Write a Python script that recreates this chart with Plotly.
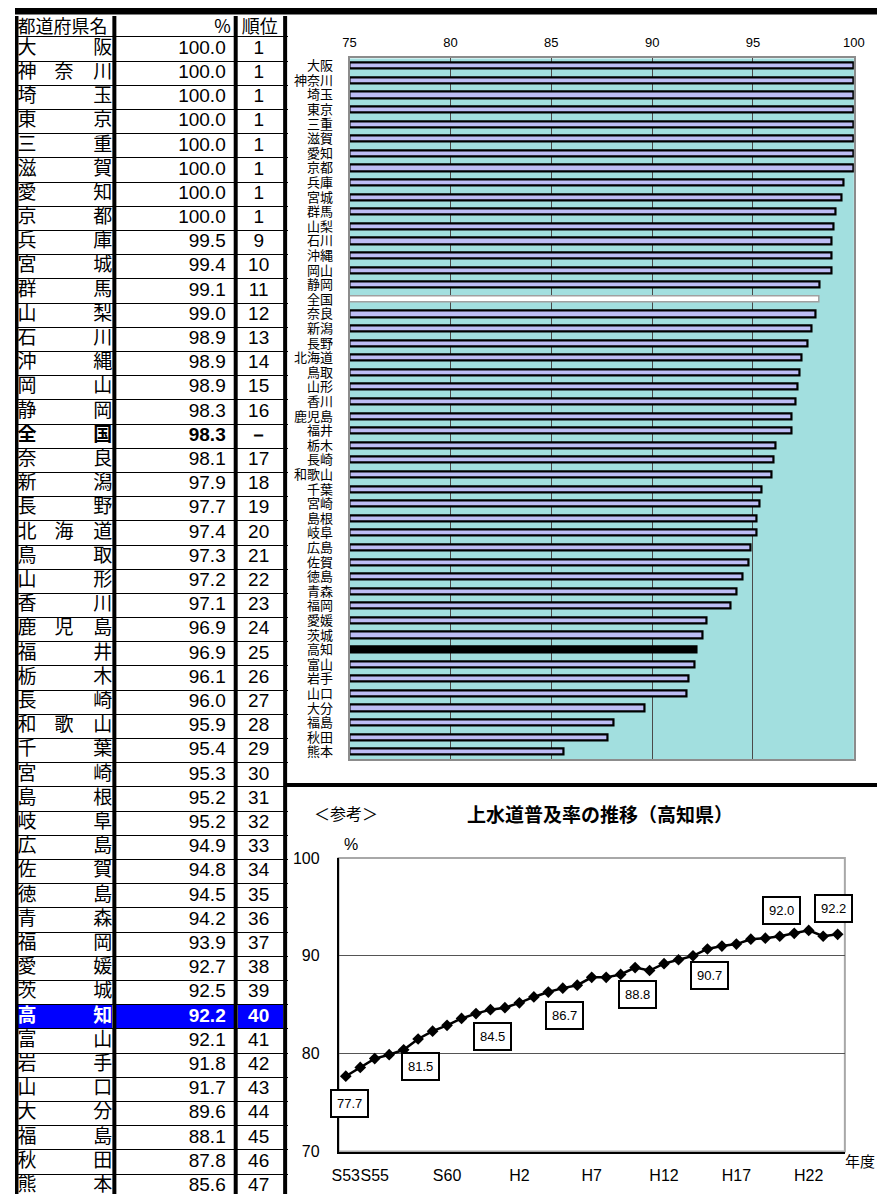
import plotly.graph_objects as go

# ---------------- data ----------------
prefectures = ["大阪", "神奈川", "埼玉", "東京", "三重", "滋賀", "愛知", "京都", "兵庫", "宮城",
               "群馬", "山梨", "石川", "沖縄", "岡山", "静岡", "全国", "奈良", "新潟", "長野",
               "北海道", "鳥取", "山形", "香川", "鹿児島", "福井", "栃木", "長崎", "和歌山", "千葉",
               "宮崎", "島根", "岐阜", "広島", "佐賀", "徳島", "青森", "福岡", "愛媛", "茨城",
               "高知", "富山", "岩手", "山口", "大分", "福島", "秋田", "熊本"]
rates = [100.0, 100.0, 100.0, 100.0, 100.0, 100.0, 100.0, 100.0, 99.5, 99.4,
         99.1, 99.0, 98.9, 98.9, 98.9, 98.3, 98.3, 98.1, 97.9, 97.7,
         97.4, 97.3, 97.2, 97.1, 96.9, 96.9, 96.1, 96.0, 95.9, 95.4,
         95.3, 95.2, 95.2, 94.9, 94.8, 94.5, 94.2, 93.9, 92.7, 92.5,
         92.2, 92.1, 91.8, 91.7, 89.6, 88.1, 87.8, 85.6]
ranks = ["1", "1", "1", "1", "1", "1", "1", "1", "9", "10",
         "11", "12", "13", "14", "15", "16", "－", "17", "18", "19",
         "20", "21", "22", "23", "24", "25", "26", "27", "28", "29",
         "30", "31", "32", "33", "34", "35", "36", "37", "38", "39",
         "40", "41", "42", "43", "44", "45", "46", "47"]
national = "全国"
highlight = "高知"
table_headers = ["都道府県名", "%", "順位"]
bar_ticks = [75, 80, 85, 90, 95, 100]

years = ["S53", "S54", "S55", "S56", "S57", "S58", "S59", "S60", "S61", "S62", "S63",
         "H1", "H2", "H3", "H4", "H5", "H6", "H7", "H8", "H9", "H10",
         "H11", "H12", "H13", "H14", "H15", "H16", "H17", "H18", "H19", "H20",
         "H21", "H22", "H23", "H24"]
kochi_trend = [77.7, 78.6, 79.5, 79.9, 80.4, 81.5, 82.3, 82.9, 83.6, 84.1, 84.5,
               84.7, 85.2, 85.8, 86.3, 86.7, 87.0, 87.8, 87.8, 88.1, 88.8,
               88.5, 89.2, 89.6, 90.0, 90.7, 91.0, 91.2, 91.7, 91.8, 92.0,
               92.3, 92.6, 92.0, 92.2]
trend_tick_years = ["S53", "S55", "S60", "H2", "H7", "H12", "H17", "H22"]
labelled_years = ["S53", "S58", "S63", "H5", "H10", "H15", "H20", "H24"]
labels_above = ["H20", "H24"]

# ---------------- layout helpers ----------------
# Figure size and a calibration from target-picture pixels to figure pixels.
W, H = 885, 1195
SX, BX = 0.981, 14.0
SY, BY = 0.987, 15.0


def fx(p):
    return (p - BX) / SX / W


def fy(p):
    return 1 - (p - BY) / SY / H


JP = "Noto Sans CJK JP"
NUM = "Liberation Sans, Arial, sans-serif"

fig = go.Figure()

# ================= TABLE (x3 / y3) =================
ROW_TOP = 30.0
ROW_H = 24.35
ref_top = BY - 6                  # a little above the figure top (kept in range)
ref_bottom = SY * H + BY
ref_left = BX
y_min = -0.5 - (ROW_TOP - ref_top) / ROW_H
y_max = -0.5 + (ref_bottom - ROW_TOP) / ROW_H
header_y = -0.5 - 8.5 / ROW_H
NAME_L, NAME_M, NAME_R = 16.5, 63.0, 111.5
VAL_R, RANK_C = 225, 258
col_lines = [113.5, 235, 284.5]

n = len(prefectures)
rows = list(range(n))
hi_row = prefectures.index(highlight)


def styled(t, p):
    return f"<b>{t}</b>" if p in (national, highlight) else t


colors = ["white" if p == highlight else "black" for p in prefectures]

fig.add_trace(go.Bar(orientation="h", y=[hi_row] * 3, x=[111.5 - 16, 117.5, 45.5], base=[16, 115.5, 237],
                     width=0.95, marker=dict(color="#0000FF", line=dict(width=0)),
                     xaxis="x3", yaxis="y3", hoverinfo="skip", showlegend=False))


def text_trace(xs, ys, texts, pos, family, cols, size=19):
    return go.Scatter(x=xs, y=ys, mode="text", text=texts, textposition=pos,
                      textfont=dict(family=family, size=size, color=cols), cliponaxis=False,
                      xaxis="x3", yaxis="y3", hoverinfo="skip", showlegend=False)


fig.add_trace(text_trace([NAME_L] * n, rows, [styled(p[0], p) for p in prefectures],
                         "middle right", JP, colors))
mid_rows = [i for i, p in enumerate(prefectures) if len(p) == 3]
fig.add_trace(text_trace([NAME_M] * len(mid_rows), mid_rows,
                         [styled(prefectures[i][1], prefectures[i]) for i in mid_rows],
                         "middle center", JP, [colors[i] for i in mid_rows]))
fig.add_trace(text_trace([NAME_R] * n, rows, [styled(p[-1], p) for p in prefectures],
                         "middle left", JP, colors))
fig.add_trace(text_trace([VAL_R] * n, rows, [styled(f"{v:.1f}", p) for v, p in zip(rates, prefectures)],
                         "middle left", NUM, colors))
fig.add_trace(text_trace([RANK_C] * n, rows, [styled(r, p) for r, p in zip(ranks, prefectures)],
                         "middle center", NUM, colors))
fig.add_trace(text_trace([NAME_L, 230, 259], [header_y] * 3, table_headers,
                         ["middle right", "middle left", "middle center"], JP, "black", size=18))

# ================= BAR CHART (x / y) =================
fill = ["#000000" if p == highlight else "#FFFFFF" if p == national else "#BDBDF5" for p in prefectures]
edge = ["#000000" if p != national else "#A0A0A0" for p in prefectures]
edge_w = [2.2 if p != national else 1.5 for p in prefectures]
fig.add_trace(go.Bar(orientation="h", y=prefectures, x=[v - bar_ticks[0] for v in rates],
                     base=bar_ticks[0], width=0.42,
                     marker=dict(color=fill, line=dict(color=edge, width=edge_w)),
                     xaxis="x", yaxis="y", showlegend=False,
                     hovertemplate="%{y}: %{customdata}<extra></extra>", customdata=rates))

# ================= LINE CHART (x2 / y2) =================
fig.add_trace(go.Scatter(x=years, y=kochi_trend, mode="lines+markers",
                         line=dict(color="black", width=2.5),
                         marker=dict(symbol="diamond", size=9, color="black"),
                         xaxis="x2", yaxis="y2", showlegend=False))

annotations = []
for yr in labelled_years:
    i = years.index(yr)
    above = yr in labels_above
    annotations.append(dict(
        x=yr, y=kochi_trend[i], xref="x2", yref="y2", showarrow=False,
        text=f"{kochi_trend[i]:.1f}", font=dict(family=NUM, size=13, color="black"),
        bgcolor="white", bordercolor="black", borderwidth=2, borderpad=5,
        yshift=26 if above else -27, xshift=(-4 if yr == labelled_years[-1] else (4 if i == 0 else 2))))

annotations += [
    dict(x=fx(338), y=fy(6), xref="paper", yref="paper", xanchor="center", yanchor="bottom",
         text="<b>水道普及率の都道府県比較（平成24年度末現在）</b>", showarrow=False,
         font=dict(family=JP, size=24, color="black")),
    dict(x=fx(345), y=fy(813), xref="paper", yref="paper", xanchor="center", yanchor="middle",
         text="＜参考＞", showarrow=False, font=dict(family=JP, size=16, color="black")),
    dict(x=fx(600), y=fy(813), xref="paper", yref="paper", xanchor="center", yanchor="middle",
         text="<b>上水道普及率の推移（高知県）</b>", showarrow=False,
         font=dict(family=JP, size=19, color="black")),
    dict(x=fx(350), y=fy(845), xref="paper", yref="paper", xanchor="center", yanchor="middle",
         text="%", showarrow=False, font=dict(family=NUM, size=16, color="black")),
    dict(x=fx(860), y=fy(1161), xref="paper", yref="paper", xanchor="center", yanchor="middle",
         text="年度", showarrow=False, font=dict(family=JP, size=15, color="black")),
]

shapes = [
    dict(type="rect", xref="x domain", yref="y domain", x0=0, x1=1, y0=0, y1=1,
         fillcolor="#A2DFDF", line=dict(width=0), layer="below"),
    dict(type="rect", xref="x2 domain", yref="y2 domain", x0=0, x1=1, y0=0, y1=1,
         fillcolor="rgba(0,0,0,0)", line=dict(color="#A8A8A8", width=2), layer="below"),
    # heavy top rule and the rule above the reference chart
    dict(type="rect", xref="paper", yref="paper", x0=0, x1=1, y0=fy(13.5), y1=1.02,
         fillcolor="black", line=dict(width=0)),
    dict(type="rect", xref="paper", yref="paper", x0=fx(284), x1=1, y0=fy(787), y1=fy(783),
         fillcolor="black", line=dict(width=0)),
    # table left border at the figure edge
    dict(type="rect", xref="paper", yref="paper", x0=0, x1=fx(17.5), y0=0, y1=1,
         fillcolor="black", line=dict(width=0)),
]
for cx in col_lines:
    shapes.append(dict(type="rect", xref="paper", yref="paper", x0=fx(cx - 2), x1=fx(cx + 2),
                       y0=0, y1=1, fillcolor="black", line=dict(width=0)))

fig.update_layout(
    width=W, height=H, margin=dict(l=0, r=0, t=0, b=0),
    paper_bgcolor="white", plot_bgcolor="rgba(0,0,0,0)",
    barmode="overlay", bargap=0, showlegend=False,
    annotations=annotations, shapes=shapes,
    xaxis=dict(domain=[fx(349), fx(854)], range=[bar_ticks[0], bar_ticks[-1]], side="top",
               tickvals=bar_ticks, tickfont=dict(family=NUM, size=13, color="black"),
               showgrid=True, gridcolor="#4A4A4A", gridwidth=1,
               showline=True, mirror=True, linecolor="#8C8C8C", linewidth=2,
               ticks="", ticklabelstandoff=4, zeroline=False, fixedrange=True, anchor="y"),
    yaxis=dict(domain=[fy(759), fy(57.5)], type="category", categoryorder="array",
               categoryarray=prefectures, autorange="reversed",
               tickmode="array", tickvals=prefectures, ticktext=prefectures,
               tickfont=dict(family=JP, size=13, color="black"), ticks="",
               ticklabelstandoff=12, showgrid=False,
               showline=True, mirror=True, linecolor="#8C8C8C", linewidth=2, anchor="x"),
    xaxis2=dict(domain=[fx(338), fx(845)], type="category", categoryorder="array",
                categoryarray=years, range=[-0.5, len(years) - 0.5],
                tickmode="array", tickvals=trend_tick_years, ticktext=trend_tick_years,
                tickangle=0,
                tickfont=dict(family=NUM, size=16, color="black"), ticks="",
                ticklabelstandoff=8, showgrid=False, showline=True, linecolor="black",
                linewidth=1.5, anchor="y2"),
    yaxis2=dict(domain=[fy(1152), fy(858)], range=[70, 100], dtick=10, tick0=70,
                tickfont=dict(family=NUM, size=16, color="black"), ticks="",
                ticklabelstandoff=14, showgrid=True, gridcolor="#555555", gridwidth=1,
                showline=True, linecolor="black", linewidth=1.5, zeroline=False, anchor="x2"),
    xaxis3=dict(domain=[0, fx(287)], range=[ref_left, 287], showticklabels=False, ticks="",
                showgrid=False, zeroline=False, showline=False, anchor="y3", fixedrange=True),
    yaxis3=dict(domain=[0, min(1.0, fy(ref_top))], range=[y_max, y_min], tickmode="linear",
                tick0=0.5, dtick=1, showticklabels=False, ticks="",
                showgrid=True, gridcolor="black", gridwidth=1, zeroline=False,
                showline=False, anchor="x3", fixedrange=True),
)

fig.write_html("out.html", config={"displayModeBar": False})
